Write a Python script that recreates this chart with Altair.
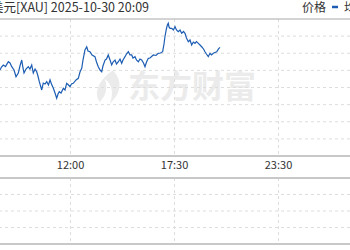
import altair as alt
import pandas as pd

# ---- data ----
idx = [32.2, 33.6, 35.4, 37.5, 40.2, 41.8, 43.5, 45.7, 47.6, 49.8, 51.4, 53.1, 54.3, 55.3, 57.2,
       59.4, 61.0, 62.7, 64.2, 65.9, 67.5, 68.7, 70.0, 72.3, 73.8, 75.5, 77.1, 78.8, 80.3, 81.7,
       83.4, 85.1, 86.7, 88.0, 89.2, 90.9, 93.1, 94.7, 96.3, 98.1, 99.5, 100.9, 102.7, 105.3, 107.5,
       109.1, 110.8, 112.0, 113.9, 115.6, 116.8, 118.7, 120.7, 123.5, 125.0, 126.7, 128.4, 130.0,
       131.2, 133.2, 134.6, 136.3, 138.0, 139.6, 140.9, 142.8, 144.2, 146.0, 147.6, 149.2, 150.5,
       152.4, 153.8, 155.6, 157.2, 158.8, 160.1, 162.0, 163.4, 165.2, 166.8, 168.4, 170.2, 171.6,
       173.1, 174.8, 176.4, 179.6, 182.2, 184.4, 186.5, 188.6, 189.9, 190.8, 192.0, 193.1, 194.0,
       194.7, 195.7, 197.3, 198.9, 200.5, 201.9, 203.6, 205.3, 206.9, 208.6, 210.1, 211.5, 213.3,
       214.9, 216.5, 218.1, 219.7, 221.1, 222.9, 224.5, 226.1, 227.9, 229.3, 230.7, 232.5, 234.1,
       235.6, 237.3, 238.9, 240.6, 242.3, 243.7]
price = [3980.4, 3983.9, 3986.3, 3984.5, 3990.1, 3988.6, 3984.3, 3980.4, 3972.6, 3976.9, 3985.1,
         3992.1, 3982.8, 3976.9, 3981.6, 3984.3, 3981.6, 3986.3, 3976.9, 3981.6, 3978.4, 3973.4,
         3966.8, 3957.1, 3965.2, 3964.1, 3966.8, 3962.9, 3968.8, 3964.1, 3959.4, 3953.6, 3947.4,
         3952.4, 3955.1, 3953.6, 3959.1, 3957.1, 3964.9, 3962.9, 3960.9, 3964.1, 3964.9, 3968.8,
         3970.7, 3978.1, 3982.4, 3992.1, 4003.8, 4007.6, 4002.6, 4001.8, 3998.0, 3996.0, 3989.8,
         3984.3, 3980.4, 3978.4, 3985.1, 3992.1, 3993.3, 3998.0, 3992.1, 3986.3, 3989.8, 3992.1,
         3987.4, 3990.1, 3993.3, 3988.3, 3992.1, 3996.0, 3999.1, 4001.8, 3998.0, 3998.0, 3994.4,
         3996.0, 3992.1, 3990.1, 3993.3, 3992.1, 3988.6, 3984.3, 3989.8, 3994.1, 3994.4, 3998.0,
         3997.4, 3999.9, 4000.3, 4001.8, 4010.8, 4019.3, 4027.2, 4033.0, 4035.0, 4030.7, 4029.1,
         4029.1, 4027.2, 4031.0, 4027.2, 4025.2, 4027.2, 4023.3, 4025.4, 4023.3, 4017.8, 4013.5,
         4015.5, 4009.6, 4013.1, 4011.6, 4013.7, 4011.6, 4009.6, 4007.6, 4005.0, 4001.8, 3999.1,
         3996.0, 3999.9, 3998.0, 3999.9, 4000.9, 4001.8, 4005.0, 4006.9]

tick_idx = [100, 200, 300]
tick_labels = ["12:00", "17:30", "23:30"]
price_grid = [4020, 4000, 3980, 3960, 3940, 3920, 3900]
price_top = [4040]
price_bottom = [3880]
vol_grid = [1, 2, 3]
vol_border = [0, 4]

title_text = ["美元[XAU] 2025-10-30 20:09"]
legend_text = ["价格"]
legend_text2 = ["均"]
watermark = ["东方财富"]

# ---- scales ----
xs = alt.Scale(domain=[32.2, 368.75], nice=False, zero=False)
ps = alt.Scale(domain=[3880, 4040], range=[156, 19], nice=False, zero=False)
vs = alt.Scale(domain=[0, 4], range=[244, 178], nice=False, zero=False)

line_df = pd.DataFrame({"idx": idx, "price": price})
tick_df = pd.DataFrame({"idx": tick_idx, "label": tick_labels,
                        "ptop": price_top * 3, "pbot": price_bottom * 3,
                        "vtop": [vol_border[1]] * 3, "vbot": [vol_border[0]] * 3})

FONT = "Noto Sans CJK SC"

wm_text = alt.Chart(pd.DataFrame({"t": watermark})).mark_text(
    font=FONT, fontSize=32, fontWeight="bold", color="#ebebeb", align="left", baseline="middle"
).encode(x=alt.value(128), y=alt.value(88), text="t:N")

wm_logo = alt.Chart(pd.DataFrame({"t": watermark})).mark_point(
    shape="M0.3,-1 C0.9,-0.4 0.8,0.4 0.1,1 C0.4,0.3 0.2,-0.2 -0.2,-0.5 C0,0 -0.1,0.5 -0.5,0.9 C-0.9,0.3 -0.5,-0.5 0.3,-1 Z",
    filled=True, color="#ebebeb", opacity=1, size=1100
).encode(x=alt.value(108), y=alt.value(87))

hgrid = alt.Chart(pd.DataFrame({"p": price_grid})).mark_rule(
    color="#dddddd", strokeDash=[3, 3], strokeWidth=1
).encode(y=alt.Y("p:Q", scale=ps, axis=None))

vgrid_up = alt.Chart(tick_df).mark_rule(
    color="#dddddd", strokeDash=[3, 3], strokeWidth=1
).encode(x=alt.X("idx:Q", scale=xs, axis=None),
         y=alt.Y("ptop:Q", scale=ps, axis=None), y2="pbot:Q")

vgrid_low = alt.Chart(tick_df).mark_rule(
    color="#dddddd", strokeDash=[3, 3], strokeWidth=1
).encode(x=alt.X("idx:Q", scale=xs, axis=None),
         y=alt.Y("vtop:Q", scale=vs, axis=None), y2="vbot:Q")

lgrid = alt.Chart(pd.DataFrame({"v": vol_grid})).mark_rule(
    color="#dddddd", strokeDash=[3, 3], strokeWidth=1
).encode(y=alt.Y("v:Q", scale=vs, axis=None))

top_border = alt.Chart(pd.DataFrame({"p": price_top})).mark_rule(
    color="#a8a8a8", strokeWidth=1
).encode(y=alt.Y("p:Q", scale=ps, axis=None))

bot_border = alt.Chart(pd.DataFrame({"p": price_bottom})).mark_rule(
    color="#c8c8c8", strokeWidth=2
).encode(y=alt.Y("p:Q", scale=ps, axis=None))

low_border = alt.Chart(pd.DataFrame({"v": vol_border})).mark_rule(
    color="#c8c8c8", strokeWidth=2
).encode(y=alt.Y("v:Q", scale=vs, axis=None))

price_line = alt.Chart(line_df).mark_line(
    color="#1c5db3", strokeWidth=1.2
).encode(x=alt.X("idx:Q", scale=xs, axis=None),
         y=alt.Y("price:Q", scale=ps, axis=None))

tick_text = alt.Chart(tick_df).mark_text(
    font=FONT, fontSize=11, color="#333333", baseline="middle"
).encode(x=alt.X("idx:Q", scale=xs, axis=None), y=alt.value(166), text="label:N")

title = alt.Chart(pd.DataFrame({"t": title_text})).mark_text(
    font=FONT, fontSize=12.5, color="#333333", align="left", baseline="middle"
).encode(x=alt.value(-9), y=alt.value(8), text="t:N")

leg1 = alt.Chart(pd.DataFrame({"t": legend_text})).mark_text(
    font=FONT, fontSize=12, color="#333333", align="right", baseline="middle"
).encode(x=alt.value(326), y=alt.value(8), text="t:N")

leg_mark = alt.Chart(pd.DataFrame({"t": legend_text})).mark_rule(
    color="#1c5db3", strokeWidth=2.5
).encode(x=alt.value(332), x2=alt.value(338), y=alt.value(7))

leg2 = alt.Chart(pd.DataFrame({"t": legend_text2})).mark_text(
    font=FONT, fontSize=12, color="#333333", align="left", baseline="middle"
).encode(x=alt.value(344), y=alt.value(8), text="t:N")

chart = alt.layer(
    wm_logo, wm_text, hgrid, lgrid, vgrid_up, vgrid_low,
    top_border, bot_border, low_border, price_line,
    tick_text, title, leg1, leg_mark, leg2
).resolve_scale(y="independent").properties(
    width=350, height=250,
    autosize=alt.AutoSizeParams(type="none"),
    padding=0,
    background="white",
).configure_view(stroke=None)

chart.save("out.html", embed_options={"renderer": "svg", "actions": False})
